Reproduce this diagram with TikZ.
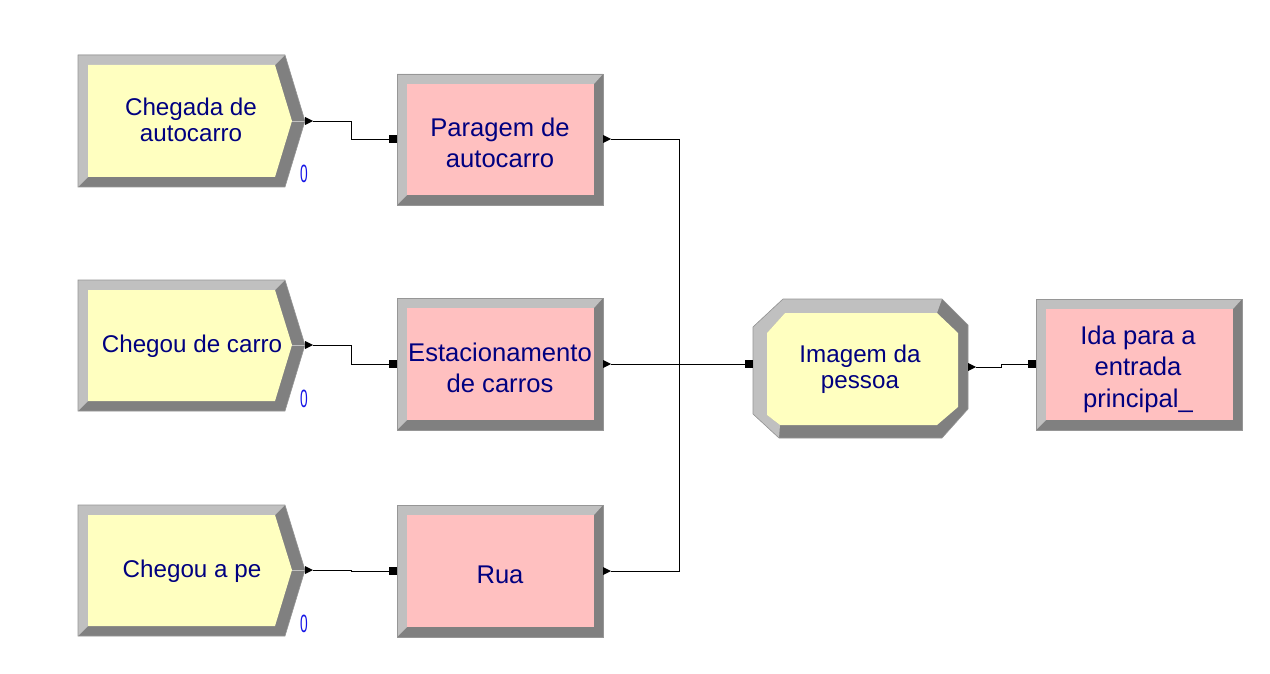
\documentclass[tikz,border=0pt]{standalone}
\usepackage{fontspec}
\setmainfont{Liberation Sans}
\definecolor{lg}{RGB}{192,192,192}
\definecolor{dg}{RGB}{128,128,128}
\definecolor{edge}{RGB}{150,150,150}
\definecolor{yel}{RGB}{255,255,192}
\definecolor{pnk}{RGB}{255,192,192}
\definecolor{navy}{RGB}{0,0,128}
\definecolor{cnt}{RGB}{20,20,230}
% process module: x1 y1 x2 y2
\newcommand\ProcMod[4]{%
  \fill[dg] (#1,#2) rectangle (#3,#4);
  \fill[lg] (#1,#2) -- (#3,#2) -- (#3-9,#2+10) -- (#1+10,#2+10) -- (#1+10,#4-10) -- (#1,#4) -- cycle;
  \fill[pnk] (#1+10,#2+10) rectangle (#3-9,#4-10);
  \draw[edge,line width=0.6pt] (#1,#2) rectangle (#3,#4);}
% create module: y1 y2 ym
\newcommand\CreateMod[3]{%
  \fill[dg] (78,#1) -- (285,#1) -- (305,#3) -- (285,#2) -- (78,#2) -- cycle;
  \fill[lg] (78,#1) -- (285,#1) -- (275,#1+10) -- (88,#1+10) -- (88,#2-10) -- (78,#2) -- cycle;
  \fill[yel] (88,#1+10) -- (275,#1+10) -- (292,#3) -- (275,#2-10) -- (88,#2-10) -- cycle;
  \draw[lg,line width=0.6pt] (292,#3) -- (305,#3);
  \draw[edge,line width=0.6pt] (78,#1) -- (285,#1) -- (305,#3) -- (285,#2) -- (78,#2) -- cycle;}
\newcommand\OutTri[1]{\fill (#1) -- ++(-8,-4) -- ++(0,8) -- cycle;}
\newcommand\InSq[1]{\fill (#1) ++(0,-4) rectangle ++(8,8);}
\tikzset{
  lbl/.style={text=navy, align=center, inner sep=0pt, font=\fontsize{24.2}{26}\selectfont},
  plbl/.style={lbl, font=\fontsize{25.6}{31.5}\selectfont},
  cntlbl/.style={text=cnt, inner sep=0pt, font=\fontsize{25}{25}\selectfont, xscale=0.55},
  conn/.style={line width=0.8pt, black}
}
\begin{document}
\begin{tikzpicture}[x=1pt,y=-1pt]
\useasboundingbox (0,0) rectangle (1270,674);
\fill[white] (0,0) rectangle (1270,674);
% create modules
\CreateMod{55}{187}{121}
\CreateMod{280}{411}{345}
\CreateMod{505}{636}{570}
% process modules
\ProcMod{397}{74}{603}{205}
\ProcMod{397}{298}{603}{430}
\ProcMod{397}{505}{603}{637}
\ProcMod{1036}{299}{1242}{430}
% octagon module
\fill[dg] (753,327) -- (783,299) -- (942,299) -- (968,325) -- (968,409) -- (942,438) -- (779,438) -- (753,414) -- cycle;
\fill[lg] (753,414) -- (753,327) -- (783,299) -- (942,299) -- (937,313) -- (785,313) -- (767,333) -- (767,415) -- (780,425) -- (779,438) -- cycle;
\fill[yel] (767,333) -- (785,313) -- (937,313) -- (958,333) -- (958,407) -- (937,425) -- (780,425) -- (767,415) -- cycle;
\draw[edge,line width=0.6pt] (753,327) -- (783,299) -- (942,299) -- (968,325) -- (968,409) -- (942,438) -- (779,438) -- (753,414) -- cycle;
% labels
\node[lbl] (t1) at (191,120) {Chegada de\\autocarro};
\node[lbl] (t2) at (192,346) {Chegou de carro};
\node[lbl] (t3) at (192,571) {Chegou a pe};
\node[plbl] (t4) at (500,143) {Paragem de\\autocarro};
\node[plbl] (t5) at (500,368) {Estacionamento\\de carros};
\node[plbl] (t6) at (500,575) {Rua};
\node[lbl] (t7) at (860,369) {Imagem da\\pessoa};
\node[plbl] (t8) at (1138,369) {Ida para a\\entrada\\principal\_};
\node[cntlbl] (n1) at (304,174) {0};
\node[cntlbl] (n2) at (304,399) {0};
\node[cntlbl] (n3) at (304,624) {0};
% ports
\coordinate (c1o) at (313,121);
\coordinate (c2o) at (313,345);
\coordinate (c3o) at (313,570);
\coordinate (p1i) at (389,139);
\coordinate (p2i) at (389,364);
\coordinate (p3i) at (389,571);
\coordinate (p1o) at (611,139);
\coordinate (p2o) at (611,364);
\coordinate (p3o) at (611,571);
\coordinate (bus) at (679,364);
\coordinate (di) at (745,364);
\coordinate (do) at (976,367);
\coordinate (p4i) at (1028,364);
\foreach \p in {c1o,c2o,c3o,p1o,p2o,p3o,do} {\OutTri{\p}}
\foreach \p in {p1i,p2i,p3i,di,p4i} {\InSq{\p}}
% connectors
\draw[conn] (c1o) -- ++(38,0) |- (p1i);
\draw[conn] (c2o) -- ++(38,0) |- (p2i);
\draw[conn] (c3o) -- ++(38,0) |- (p3i);
\draw[conn] (p1o) -| (bus);
\draw[conn] (p3o) -| (bus);
\draw[conn] (p2o) -- (di);
\draw[conn] (do) -- ++(25,0) |- (p4i);
\end{tikzpicture}
\end{document}
